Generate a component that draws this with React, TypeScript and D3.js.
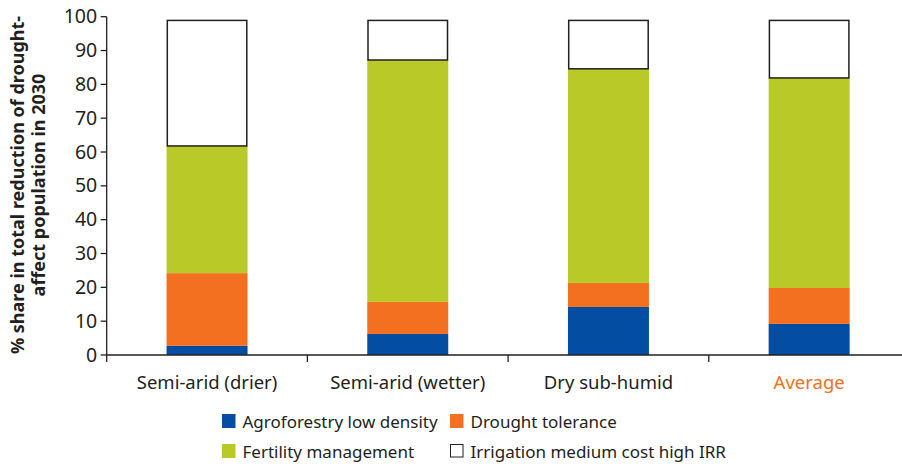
import React from "react";
import * as d3 from "d3";

const categories = ["Semi-arid (drier)", "Semi-arid (wetter)", "Dry sub-humid", "Average"];
const seriesNames = ["Agroforestry low density", "Drought tolerance", "Fertility management", "Irrigation medium cost high IRR"];
const agroforestry = [2.7, 6.2, 14.2, 9.2];
const droughtTolerance = [21.5, 9.5, 7.1, 10.6];
const fertility = [37.6, 71.5, 63.3, 62.1];
const irrigation = [37.1, 11.7, 14.3, 17.0];
const yTicks = [0, 10, 20, 30, 40, 50, 60, 70, 80, 90, 100];

const colors = ["#034ea2", "#f37021", "#b9c928", "#ffffff"];
const ink = "#231f20";
const font = "'Noto Sans', 'Open Sans', sans-serif";

export default function App() {
  const width = 902;
  const height = 468;
  const x0 = 106.7;
  const y = d3.scaleLinear().domain([0, 100]).range([355, 16.7]);
  const x = d3.scaleBand().domain(categories).range([x0, x0 + 4 * 200.7]).paddingInner(0).paddingOuter(0);
  const bw = 81;

  const rows = categories.map((c, i) => ({
    cat: c,
    agro: agroforestry[i],
    drought: droughtTolerance[i],
    fert: fertility[i],
    irr: irrigation[i],
  }));
  const stack = d3.stack<any>().keys(["agro", "drought", "fert", "irr"]);
  const layers = stack(rows);

  const legend = [
    { name: seriesNames[0], color: colors[0], x: 222, y: 414 },
    { name: seriesNames[1], color: colors[1], x: 450, y: 414 },
    { name: seriesNames[2], color: colors[2], x: 222, y: 444 },
    { name: seriesNames[3], color: colors[3], x: 450, y: 444 },
  ];

  return (
    <svg width={width} height={height} style={{ position: "absolute", left: 0, top: 0, background: "#fff" }}>
      <rect x={0} y={0} width={width} height={height} fill="#fff" />
      {/* bars */}
      {layers.map((layer, li) => (
        <g key={li}>
          {layer.map((d, i) => {
            const cx = (x(categories[i]) as number) + x.bandwidth() / 2;
            const top = y(d[1]);
            const bot = y(d[0]);
            return (
              <rect
                key={i}
                x={cx - bw / 2 + (li === 3 ? 0.75 : 0)}
                y={top}
                width={bw - (li === 3 ? 1.5 : 0)}
                height={bot - top}
                fill={colors[li]}
                stroke={li === 3 ? ink : "none"}
                strokeWidth={li === 3 ? 1.5 : 0}
              />
            );
          })}
        </g>
      ))}
      {/* y axis */}
      <line x1={x0} x2={x0} y1={y(100)} y2={362} stroke={ink} strokeWidth={1.3} />
      {yTicks.map((t) => (
        <g key={t}>
          <line x1={x0 - 6} x2={x0} y1={y(t)} y2={y(t)} stroke={ink} strokeWidth={1.3} />
          <text x={x0 - 9.5} y={y(t) + 6.5} textAnchor="end" fontFamily={font} fontSize={19.5} fill={ink}>
            {t}
          </text>
        </g>
      ))}
      {/* x axis */}
      <line x1={x0} x2={902} y1={y(0)} y2={y(0)} stroke={ink} strokeWidth={1.3} />
      {categories.map((c, i) =>
        i > 0 ? (
          <line key={c} x1={x(c) as number} x2={x(c) as number} y1={y(0)} y2={362} stroke={ink} strokeWidth={1.3} />
        ) : null
      )}
      {categories.map((c, i) => (
        <text
          key={c}
          x={(x(c) as number) + x.bandwidth() / 2}
          y={389}
          textAnchor="middle"
          fontFamily={font}
          fontSize={18.5}
          fill={i === 3 ? "#f37021" : ink}
        >
          {c}
        </text>
      ))}
      {/* y label */}
      <text transform="translate(24,185) rotate(-90)" textAnchor="middle" fontFamily={font} fontSize={18} fontWeight="bold" fill={ink}>
        % share in total reduction of drought-
      </text>
      <text transform="translate(45,185) rotate(-90)" textAnchor="middle" fontFamily={font} fontSize={18} fontWeight="bold" fill={ink}>
        affect population in 2030
      </text>
      {/* legend */}
      {legend.map((l) => (
        <g key={l.name}>
          <rect
            x={l.x + (l.color === "#ffffff" ? 0.5 : 0)}
            y={l.y + (l.color === "#ffffff" ? 0.5 : 0)}
            width={l.color === "#ffffff" ? 12.5 : 13.5}
            height={l.color === "#ffffff" ? 12.5 : 14}
            fill={l.color}
            stroke={l.color === "#ffffff" ? ink : "none"}
            strokeWidth={1}
          />
          <text x={l.x + 20.5} y={l.y + 14} fontFamily={font} fontSize={17} fill={ink}>
            {l.name}
          </text>
        </g>
      ))}
    </svg>
  );
}
